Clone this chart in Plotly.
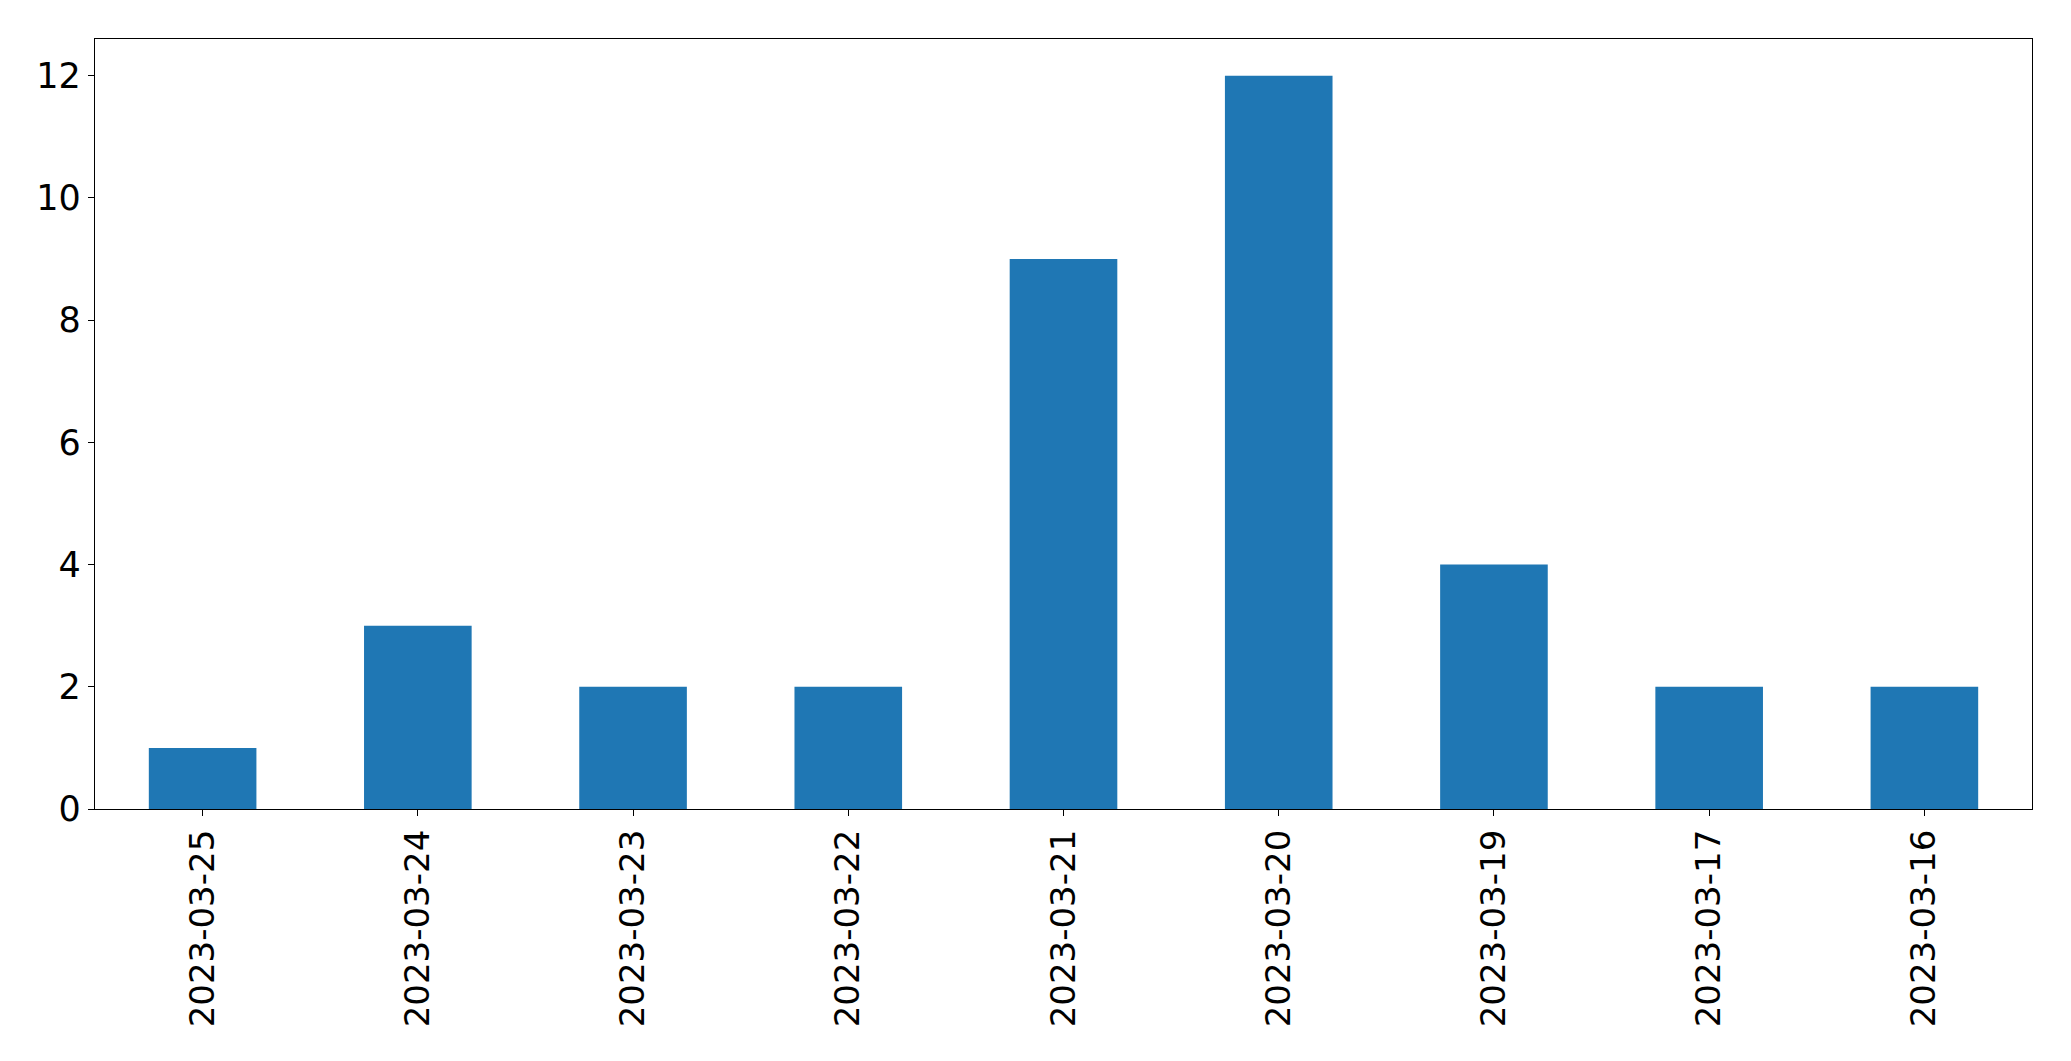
import plotly.graph_objects as go

dates = ["2023-03-25", "2023-03-24", "2023-03-23", "2023-03-22", "2023-03-21",
         "2023-03-20", "2023-03-19", "2023-03-17", "2023-03-16"]
counts = [1, 3, 2, 2, 9, 12, 4, 2, 2]
y_ticks = [0, 2, 4, 6, 8, 10, 12]

fig = go.Figure(go.Bar(x=dates, y=counts, marker_color="#1f77b4",
                       marker_line_width=0, width=0.5))

font = dict(family="DejaVu Sans", size=34, color="black")
fig.update_layout(
    width=2071, height=1061,
    margin=dict(l=95, r=39, t=39, b=252, pad=0),
    plot_bgcolor="white", paper_bgcolor="white",
    showlegend=False, font=font,
)
fig.update_xaxes(type="category", range=[-0.5, len(dates) - 0.5],
                 showline=True, linecolor="black", linewidth=1.3, mirror=True,
                 ticks="outside", ticklen=6, tickwidth=1.3, tickcolor="black",
                 tickangle=-90, showgrid=False, tickfont=font, ticklabelstandoff=0,
                 automargin=False)
fig.update_yaxes(range=[0, 12.6], tickvals=y_ticks,
                 showline=True, linecolor="black", linewidth=1.3, mirror=True,
                 ticks="outside", ticklen=6, tickwidth=1.3, tickcolor="black",
                 showgrid=False, zeroline=False, tickfont=dict(family="DejaVu Sans", size=35, color="black"),
                 automargin=False)

fig.write_html("out.html", config={"displayModeBar": False},
               post_script="document.body.style.margin='0';")
